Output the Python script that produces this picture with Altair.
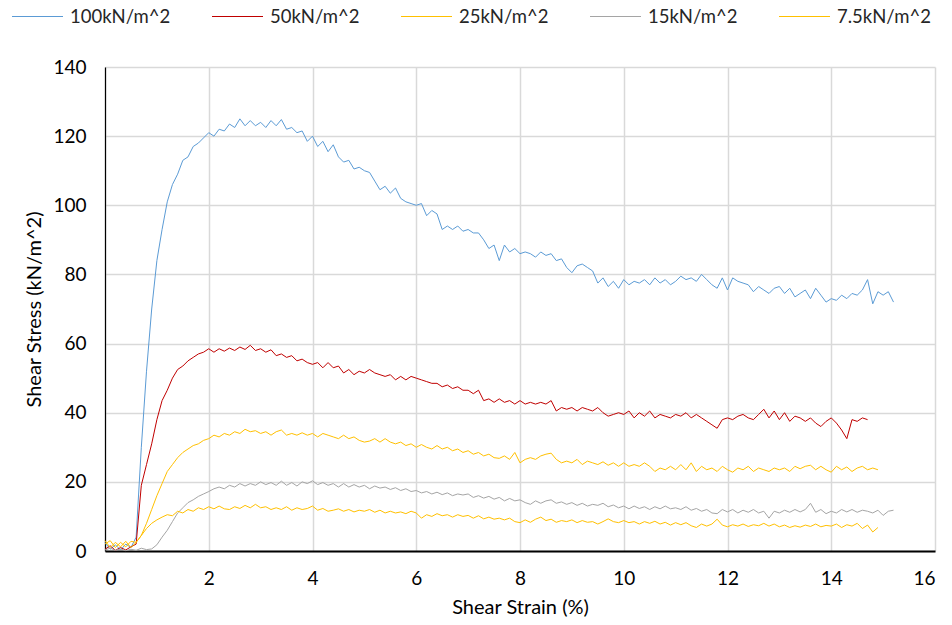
import altair as alt
import pandas as pd

SERIES = ["100kN/m^2", "50kN/m^2", "25kN/m^2", "15kN/m^2", "7.5kN/m^2"]
COLORS = ["#5B9BD5", "#C00000", "#FFC000", "#A5A5A5", "#FFC000"]
STRAIN_STEP = 0.1  # sampling interval of the recorded strain (%)

S100 = [
    2.5, 0.5, 1.8, 0.3, 2.0, 1.0, 4.0, 30, 52, 70,
    84, 93, 101, 106, 109, 113, 114, 117, 118, 119.5,
    121, 120, 122, 121.5, 123.5, 122.5, 125, 123, 124.5, 123,
    124, 122.5, 124.5, 123, 124.8, 122, 122.5, 121, 121.5, 118.5,
    120, 117, 118.5, 115.5, 117.5, 114, 112.5, 113, 110.5, 111,
    110, 109.5, 107, 104.5, 105.5, 103.5, 105, 102, 101, 100.5,
    100, 100.5, 97, 98.5, 97.5, 93, 94, 93, 94, 92.5,
    93, 92, 92, 90, 87.5, 88.5, 84, 88.5, 86.5, 87.5,
    86, 86.5, 86, 85, 86.5, 85.5, 86, 84, 84.5, 82,
    80.5, 82.5, 83, 82, 81, 77.5, 79, 76.5, 78, 76,
    78.5, 77, 78, 77.5, 78.5, 77, 79, 77.5, 78.5, 77,
    78, 79.5, 78.5, 79, 78, 80, 78.5, 77, 76, 79,
    75.5, 79, 78, 77.5, 77, 75, 76.5, 75.5, 74.5, 76,
    76.5, 74.5, 76, 73.5, 74.5, 75.5, 73, 76, 74, 72,
    73, 72.5, 74, 73, 74.5, 74, 75.5, 78.5, 71.5, 75,
    74, 75, 72,
]

S50 = [
    0.5, 1.5, 0.2, 1.0, 0.3, 1.2, 2.0, 19, 25, 31,
    38, 43.5, 46.5, 50, 52.5, 53.5, 55, 56, 57, 57.5,
    58.5, 57.5, 58.5, 57.8, 58.7, 58, 59, 58.3, 59.5, 58,
    58.5, 57.5, 58.2, 56.5, 57, 56, 56.5, 55, 55.5, 54.5,
    54, 54.5, 53, 54.5, 53, 53.5, 51.5, 52.5, 51, 52,
    51.5, 52.5, 51.5, 51, 50.5, 51, 49.5, 50.5, 49.5, 50.5,
    50, 49.5, 49, 48.5, 48.5, 47.5, 48, 47, 47.5, 46.5,
    46.5, 45.5, 46.5, 43.5, 44, 43, 44, 43, 43.5, 42.5,
    43.5, 42.5, 43, 42.5, 43, 42.5, 43.5, 40.5, 41.5, 41,
    41.5, 40.5, 41.5, 41, 40.5, 41.5, 40, 39, 39.5, 40,
    39.5, 40.5, 38.5, 40, 39, 40.5, 38.5, 39.5, 39, 38.5,
    39.5, 39, 40, 38.5, 39.5, 38.5, 37.5, 36.5, 35.5, 38,
    38.5, 38, 39, 39.5, 38.5, 38, 39.5, 41, 38.5, 40.5,
    38, 40, 37.5, 39, 38.5, 37.5, 38.5, 37, 36, 37.5,
    38.5, 37, 35, 32.5, 38, 37.5, 38.5, 38,
]

S25 = [
    3.0, 1.0, 2.5, 1.2, 2.8, 1.0, 2.5, 4.5, 8, 12,
    16, 19.5, 23, 25, 27, 28.5, 29.5, 30.5, 31, 32,
    32.5, 33.5, 33, 34, 33.5, 34.5, 34, 35.2, 34.5, 34.8,
    34, 34.5, 33.5, 34.5, 35, 33.5, 34, 33.5, 34.2, 33.5,
    34, 33, 34, 33.5, 33, 32.5, 33.5, 32.5, 33, 32,
    31.5, 31.8, 32.5, 31.5, 32.5, 31.5, 31, 31.5, 30.5, 31,
    30, 30.8, 30, 29.5, 30.5, 29.5, 30, 29, 29.5, 28.5,
    29, 28, 28.5, 27.5, 28, 27, 26.8, 27.5, 26.5, 28.5,
    25.5, 26.5, 27, 26.5, 27.5, 28, 28.3, 26.5, 25.5, 26,
    25.5, 26.5, 25, 26, 25.5, 25, 25.8, 24.8, 25.5, 24.5,
    25.5, 24.5, 25, 24.5, 25.5, 24.5, 23, 24, 23.5, 24.5,
    23.5, 25, 23.5, 25.5, 23, 24.5, 23.5, 24, 23, 24.5,
    23.5, 22.8, 24, 23.5, 24.5, 23, 24, 23.5, 23, 24,
    23.5, 24, 23, 24.5, 23.8, 24.5, 24.8, 23.5, 24.5, 23.5,
    22.8, 24.5, 23.5, 24.3, 23, 24, 24.5, 23.5, 24, 23.5,
]

S15 = [
    0.3, 0.8, 0.2, 0.6, 0.1, 0.5, 0.2, 0.8, 0.4, 0.6,
    1.8, 4.0, 6.0, 8.5, 11, 12.5, 14, 14.8, 15.8, 16.5,
    17.2, 18, 18.5, 18, 19, 18.5, 19.5, 18.8, 19.5, 19,
    20, 19.2, 19.8, 19, 20.2, 19, 19.8, 18.8, 20, 19.5,
    20.3, 19.2, 19.8, 19, 19.5, 18.5, 19.5, 18.5, 19.2, 18.5,
    19, 18, 18.8, 18.2, 18.5, 17.8, 18.3, 17.5, 18, 17.2,
    17.5, 16.8, 17.2, 16.5, 17, 16.3, 16.8, 16, 16.5, 16.2,
    16.5, 15.5, 16, 15.3, 15.8, 15, 15.5, 14.5, 15.2, 14.5,
    14.8, 14, 13.5, 14.5, 13.8, 14.5, 14.8, 13.8, 14.2, 13.5,
    14, 13.2, 13.8, 13, 13.5, 13.2, 13.8, 12.8, 13.3, 12.5,
    13, 12.2, 13, 12.3, 12.8, 12, 12.8, 12.2, 13, 12.2,
    12.5, 12, 12.8, 11.8, 12.3, 11.5, 12, 11, 10.8, 12,
    11.3, 12, 11, 11.8, 11.2, 12, 11, 11.5, 9.5, 11.5,
    11, 11.8, 11.2, 12, 11.3, 12, 13.8, 11.2, 12, 10.8,
    11.5, 11, 12, 11.3, 12, 11.2, 11.8, 11.5, 11, 11.8,
    10.3, 11.5, 11.8,
]

S7_5 = [
    2.0, 3.0, 1.0, 2.5, 1.2, 2.8, 2.5, 4.5, 6.5, 8,
    9, 9.8, 10.5, 10.2, 11.5, 11, 12, 11.5, 12.5, 12,
    12.8, 12.2, 13, 12.2, 12, 12.8, 12.3, 13.2, 12.5, 13.5,
    12.5, 12.8, 12, 12.5, 12, 12.8, 11.8, 12.5, 12, 12.3,
    13, 11.8, 12.3, 11.5, 11.8, 12.2, 11.5, 12, 11.3, 11.8,
    11.5, 12, 11.2, 11.8, 11, 11.5, 11, 11.3, 10.8, 11.5,
    11, 9.5, 10.5, 10, 10.8, 10.2, 10.5, 9.8, 10.5, 10,
    10.3, 9.5, 10.2, 9.3, 9.8, 9.2, 9.5, 9, 9.5, 8.5,
    8.2, 9, 8.3, 9.2, 9.8, 8.8, 9.2, 8.3, 8.8, 8.5,
    9, 8.2, 8.8, 8.3, 8.5, 7.8, 8.5, 9.3, 8.5, 8.2,
    8.8, 8.2, 8.5, 7.8, 8.5, 8, 8.6, 7.8, 8.3, 7.5,
    8.2, 7.6, 8.2, 7.3, 6.8, 7.8, 7.2, 7.8, 9.2, 7.5,
    7, 7.6, 7.2, 7.8, 7.1, 7.6, 7.3, 8, 7.2, 7.8,
    7, 7.5, 6.8, 7.3, 6.9, 7.5, 7.1, 7.8, 7, 7.4,
    7.2, 7.8, 6.8, 7.6, 7.2, 8, 6.5, 7.5, 5.5, 6.8,
]

X_TICKS = [0, 2, 4, 6, 8, 10, 12, 14, 16]
Y_TICKS = [0, 20, 40, 60, 80, 100, 120, 140]

rows = []
for order, (name, vals) in enumerate(zip(SERIES, [S100, S50, S25, S15, S7_5])):
    for i, v in enumerate(vals):
        rows.append({"series": name, "order": order,
                     "strain": round(i * STRAIN_STEP, 2), "stress": v})
df = pd.DataFrame(rows)

FONT = "Lato"

chart = alt.Chart(df).mark_line(strokeWidth=1).encode(
    x=alt.X("strain:Q",
            scale=alt.Scale(domain=[0, 16], nice=False, zero=False),
            axis=alt.Axis(values=X_TICKS, title="Shear Strain (%)",
                          grid=True, ticks=False, labelPadding=18,
                          titlePadding=9, domainWidth=2)),
    y=alt.Y("stress:Q",
            scale=alt.Scale(domain=[0, 140], nice=False),
            axis=alt.Axis(values=Y_TICKS, title="Shear Stress (kN/m^2)",
                          grid=True, ticks=False, labelPadding=19,
                          titlePadding=8, domainWidth=1.2)),
    color=alt.Color("series:N",
                    scale=alt.Scale(domain=SERIES, range=COLORS),
                    sort=SERIES,
                    legend=alt.Legend(title=None, orient="none",
                                      legendX=-94, legendY=-77,
                                      direction="horizontal", columns=5,
                                      symbolType="stroke", symbolSize=2601,
                                      symbolStrokeWidth=1.2,
                                      labelFontSize=18.5, labelFont=FONT,
                                      labelColor="#262626",
                                      labelOffset=6, columnPadding=38)),
    detail="series:N",
    order="strain:Q",
).properties(
    width=830, height=484,
    autosize=alt.AutoSizeParams(type="none"),
    padding={"left": 105, "top": 67, "right": 17, "bottom": 74},
).configure_view(
    stroke=None
).configure_axis(
    labelFont=FONT, titleFont=FONT, labelFontSize=19, titleFontSize=20,
    titleFontWeight="normal", labelColor="#000000", titleColor="#000000",
    domainColor="#000000", gridColor="#D9D9D9", gridWidth=1.5,
)

chart.save("out.html", embed_options={"renderer": "svg", "actions": False})
